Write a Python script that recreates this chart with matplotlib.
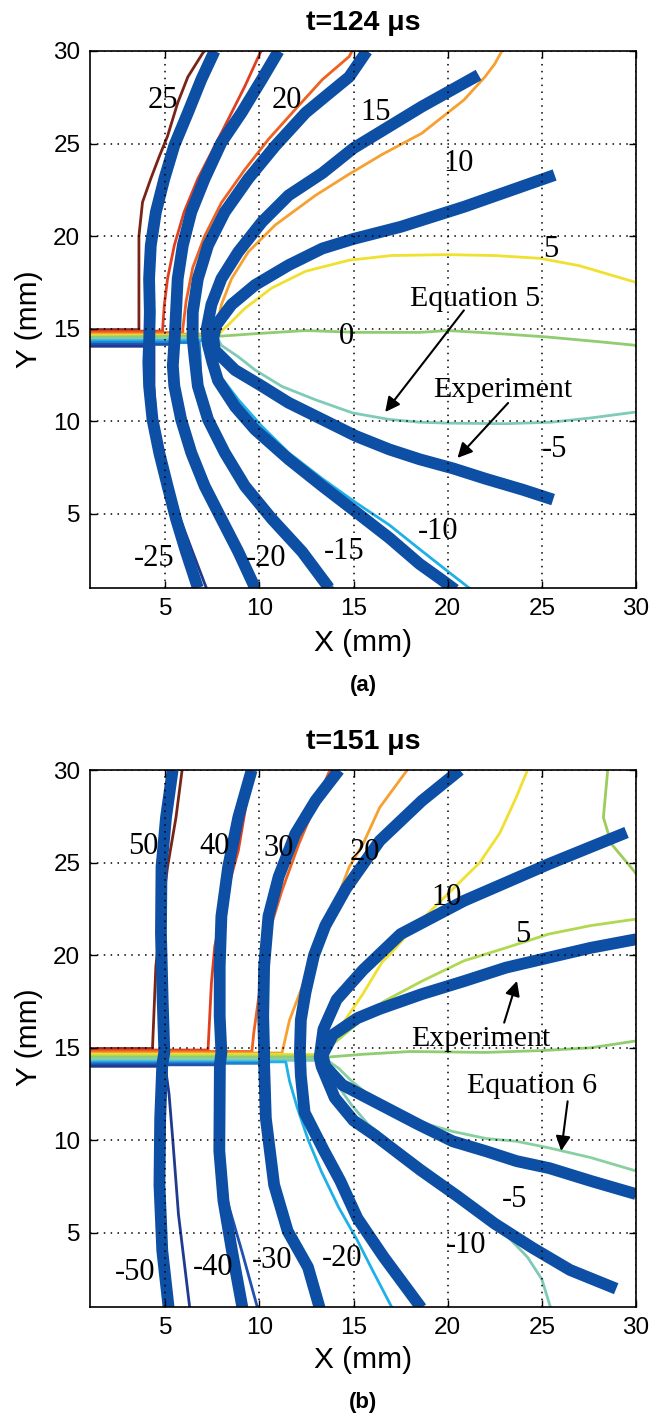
import matplotlib
matplotlib.use("Agg")
import matplotlib.pyplot as plt

# ---------------- panel (a): t = 124 us ----------------
# thin coloured contours (one list of (x, y) per level)
a_lvl_25 = [(1, 14.95), (3.6, 14.95), (3.6, 20.0), (3.79, 21.83), (4.23, 23.1), (4.68, 24.3),
            (5.12, 25.4), (5.66, 27.2), (6.2, 28.6), (7.0, 29.9), (7.1, 30)]
a_lvl_20 = [(1, 14.87), (4.86, 14.87), (4.86, 15.0), (4.95, 16.3), (5.12, 17.7), (5.48, 19.5),
            (6.0, 21.3), (6.73, 23.1), (7.63, 24.87), (8.34, 26.3), (9.23, 28.1), (10.04, 29.9), (10.1, 30)]
a_lvl_15 = [(1, 14.79), (5.93, 14.79), (5.93, 15.0), (6.11, 16.5), (6.46, 18.3), (7.09, 20.0),
            (7.98, 21.8), (9.23, 23.6), (10.48, 25.23), (11.9, 26.84), (13.34, 28.45), (14.77, 29.7), (14.92, 30)]
a_lvl_10 = [(1, 14.71), (7.6, 14.71), (7.71, 15.0), (7.98, 16.3), (8.52, 17.7), (9.41, 19.15),
            (10.84, 20.6), (12.98, 22.2), (14.77, 23.35), (16.5, 24.4), (18.62, 25.55), (20.86, 27.35),
            (21.98, 28.6), (22.5, 29.3), (22.88, 30)]
a_lvl_5 = [(1, 14.63), (7.8, 14.63), (7.98, 14.86), (8.34, 15.2), (9.23, 16.1), (10.66, 17.2),
           (12.45, 18.1), (14.77, 18.7), (17.0, 18.95), (19.96, 19.0), (22.5, 18.95), (24.9, 18.8),
           (27.0, 18.4), (30, 17.5)]
a_lvl_0 = [(1, 14.55), (7.98, 14.6), (9.77, 14.73), (12.45, 14.9), (15.26, 14.8), (18.5, 14.8),
           (20.0, 14.9), (22.5, 14.75), (25.3, 14.55), (28.0, 14.3), (30, 14.1)]
a_lvl_m5 = [(1, 14.45), (7.8, 14.45), (7.98, 14.1), (8.88, 13.48), (9.77, 12.77), (11.2, 11.88),
            (12.98, 11.16), (14.95, 10.45), (16.9, 10.1), (18.5, 9.95), (20.0, 9.9), (23.1, 9.87),
            (25.5, 9.95), (27.6, 10.18), (30, 10.5)]
a_lvl_m10 = [(1, 14.35), (7.7, 14.35), (7.75, 13.3), (7.8, 12.6), (8.88, 11.16), (10.13, 9.73),
             (11.55, 8.3), (13.34, 6.9), (15.13, 5.6), (16.9, 4.4), (18.5, 3.1), (20.0, 1.9), (21.2, 0.95)]
a_lvl_m15 = [(1, 14.25), (6.8, 14.25), (6.85, 13.5), (6.9, 11.9), (7.35, 10.1), (8.3, 8.3),
             (9.4, 6.5), (10.85, 4.73), (12.45, 2.95), (13.9, 1.0)]
a_lvl_m20 = [(1, 14.15), (5.6, 14.15), (5.55, 13.0), (5.6, 11.9), (5.95, 10.1), (6.5, 8.3),
             (7.2, 6.5), (8.1, 4.73), (9.0, 2.95), (9.9, 1.0)]
a_lvl_m25 = [(1, 14.05), (4.4, 14.05), (4.4, 11.9), (4.5, 10.1), (4.85, 8.3), (5.3, 6.5),
             (5.8, 4.7), (6.45, 2.95), (7.18, 1.0)]

# thick blue experimental curves
a_exp_1 = [(7.62, 30), (6.91, 28.45), (6.2, 26.66), (5.48, 24.9), (4.95, 23.1), (4.5, 21.3),
           (4.23, 19.5), (4.14, 17.7), (4.18, 15.9), (4.15, 14.5), (4.1, 13.2), (4.14, 11.9),
           (4.32, 10.1), (4.68, 8.3), (5.12, 6.5), (5.57, 4.73), (6.1, 2.95), (6.73, 1.0)]
a_exp_2 = [(11.02, 30), (10.12, 28.45), (9.05, 26.66), (7.98, 25.05), (7.09, 23.1), (6.38, 21.3),
           (5.93, 19.5), (5.66, 17.7), (5.57, 15.9), (5.5, 14.5), (5.4, 13.0), (5.48, 11.9),
           (5.84, 10.1), (6.38, 8.3), (7.09, 6.5), (7.98, 4.73), (8.88, 2.95), (9.77, 1.0)]
a_exp_3 = [(15.71, 30), (14.77, 28.6), (13.69, 27.7), (12.45, 26.66), (10.84, 24.87), (9.41, 23.1),
           (8.16, 21.3), (7.27, 19.5), (6.73, 17.7), (6.46, 15.9), (6.45, 14.5), (6.55, 13.5),
           (6.73, 11.9), (7.27, 10.1), (8.16, 8.3), (9.23, 6.5), (10.66, 4.73), (12.27, 2.95), (13.7, 1.0)]
a_exp_4 = [(21.64, 28.7), (18.62, 26.99), (15.0, 24.75), (13.34, 23.4), (11.55, 22.2), (10.13, 20.76),
           (8.88, 19.15), (7.98, 17.7), (7.45, 16.3), (7.2, 15.0), (7.25, 14.2), (7.5, 13.2),
           (7.8, 12.2), (8.7, 10.8), (9.77, 9.55), (11.55, 7.95), (13.34, 6.5), (15.13, 5.1),
           (16.9, 3.7), (18.5, 2.3), (19.6, 1.5), (20.4, 0.9)]
a_exp_5 = [(25.68, 23.3), (20.86, 21.58), (17.5, 20.5), (15.0, 19.85), (13.34, 19.33), (11.55, 18.43),
           (9.77, 17.36), (8.52, 16.3), (7.71, 15.2), (7.55, 14.5), (7.63, 13.84), (8.7, 12.77),
           (10.13, 11.9), (11.55, 11.0), (13.34, 10.1), (15.13, 9.2), (16.9, 8.48), (18.5, 7.95),
           (20.3, 7.45), (22.0, 6.9), (24.0, 6.3), (25.6, 5.77)]

a_labels = ["25", "20", "15", "10", "5", "0", "-5", "-10", "-15", "-20", "-25"]
a_label_xy = [(4.86, 27.3), (11.46, 27.3), (16.15, 26.7), (20.6, 23.9), (25.45, 19.3), (14.6, 14.6),
              (25.67, 8.47), (19.5, 4.06), (14.5, 2.95), (10.35, 2.6), (4.41, 2.59)]
# (text, text position, arrow tail, arrow head)
a_notes = [("Equation 5", (21.47, 16.59), (20.86, 15.99), (16.68, 10.5)),
           ("Experiment", (22.92, 11.67), (23.21, 10.99), (20.52, 8.02))]

# ---------------- panel (b): t = 151 us ----------------
b_lvl_50 = [(1, 14.96), (4.32, 14.96), (4.5, 19.4), (4.68, 21.2), (5.12, 24.77), (5.57, 27.45),
            (5.88, 29.9), (5.9, 30)]
b_lvl_40 = [(1, 14.88), (7.27, 14.88), (7.45, 18.5), (7.63, 20.5), (8.16, 23.0), (8.88, 25.66),
            (9.59, 29.9), (9.62, 30)]
b_lvl_30 = [(1, 14.8), (9.6, 14.8), (9.7, 15.8), (10.0, 18.0), (10.5, 21.2), (11.2, 23.5),
            (12.09, 26.0), (13.7, 29.9), (13.75, 30)]
b_lvl_20 = [(1, 14.72), (11.2, 14.72), (11.6, 16.5), (12.5, 18.9), (13.5, 21.4), (14.77, 24.77),
            (15.5, 26.0), (16.39, 27.98), (17.85, 30)]
b_lvl_10 = [(1, 14.64), (13.2, 14.64), (14.15, 15.9), (15.49, 17.9), (16.5, 19.6), (17.05, 20.18),
            (18.13, 21.43), (19.2, 22.5), (20.27, 23.57), (21.7, 25.0), (22.77, 26.6), (23.66, 28.57),
            (24.24, 30)]
b_lvl_5 = [(1, 14.56), (13.5, 14.56), (13.9, 15.2), (15.2, 16.3), (16.6, 17.5), (18.63, 18.6),
           (20.87, 19.7), (23.1, 20.4), (25.36, 21.14), (27.6, 21.6), (30, 21.95)]
b_lvl_0 = [(1, 14.48), (13.4, 14.48), (15.5, 14.65), (18.0, 14.8), (22.0, 14.75), (25.0, 14.85),
           (27.6, 15.0), (30, 15.37)]
b_lvl_0r = [(28.5, 30), (28.27, 27.44), (28.7, 26.0), (29.96, 24.47), (30, 24.4)]
b_lvl_m5 = [(1, 14.4), (13.5, 14.4), (14.2, 13.9), (14.9, 13.2), (16.7, 11.7), (18.48, 11.0),
            (20.27, 10.48), (22.05, 10.1), (23.66, 9.95), (25.36, 9.6), (27.6, 9.07), (30, 8.35)]
b_lvl_m10 = [(1, 14.32), (13.4, 14.32), (13.66, 13.7), (14.9, 11.9), (15.8, 10.84), (17.5, 9.5),
             (19.5, 8.0), (21.0, 6.8), (22.05, 5.8), (23.0, 5.0), (24.24, 3.69), (25.0, 2.5), (25.47, 0.95)]
b_lvl_m20 = [(1, 14.24), (11.4, 14.24), (11.6, 13.2), (12.0, 11.8), (12.6, 10.0), (13.3, 8.3),
             (14.2, 6.4), (15.2, 4.6), (16.0, 3.0), (17.05, 0.95)]
b_lvl_m30 = [(1, 14.16), (10.3, 14.16), (10.45, 11.2), (10.9, 7.6), (11.6, 5.1), (12.7, 3.15), (13.35, 0.95)]
b_lvl_m40 = [(1, 14.08), (8.0, 14.08), (8.0, 10.0), (8.3, 6.7), (9.1, 3.9), (9.9, 0.95)]
b_lvl_m50 = [(1, 14.0), (5.0, 14.0), (5.2, 12.5), (5.4, 10.0), (5.7, 6.0), (6.3, 0.95)]

b_exp_1 = [(5.39, 30), (5.04, 27.45), (4.8, 24.77), (4.77, 21.2), (4.86, 17.6), (4.95, 14.75),
           (4.84, 14.09), (4.73, 11.2), (4.69, 7.6), (4.84, 4.05), (5.18, 0.95)]
b_exp_2 = [(9.59, 30), (8.88, 27.45), (8.34, 24.77), (7.98, 22.1), (7.89, 19.4), (7.89, 16.7),
           (7.98, 14.75), (7.9, 14.09), (7.87, 9.43), (8.09, 6.74), (8.54, 4.05), (9.1, 0.95)]
b_exp_3 = [(14.23, 30), (12.98, 28.35), (11.91, 26.56), (11.02, 24.23), (10.48, 22.1), (10.25, 19.4),
           (10.2, 16.7), (10.25, 14.75), (10.25, 14.09), (10.34, 11.2), (10.78, 7.6), (11.5, 5.1),
           (12.58, 3.15), (13.2, 0.95)]
b_exp_4 = [(20.65, 30), (18.63, 28.34), (16.39, 26.18), (14.6, 23.6), (13.5, 21.6), (12.9, 20.0),
           (12.45, 18.0), (12.2, 16.5), (12.15, 14.75), (12.2, 13.5), (12.4, 11.5), (13.4, 9.5),
           (14.3, 7.8), (15.2, 5.8), (16.6, 3.7), (18.6, 0.95)]
b_exp_5 = [(29.5, 26.63), (25.36, 24.92), (20.87, 22.94), (17.5, 21.14), (15.5, 19.2), (14.1, 17.6),
           (13.4, 16.0), (13.2, 14.5), (13.3, 14.0), (14.0, 12.3), (15.0, 11.07), (16.1, 10.3),
           (18.55, 8.4), (20.5, 7.0), (22.5, 5.5), (24.5, 4.2), (26.5, 3.0), (28.95, 1.99)]
b_exp_6 = [(30, 20.86), (27.6, 20.4), (25.36, 19.87), (23.1, 19.33), (20.87, 18.6), (18.63, 17.9),
           (16.39, 17.1), (15.2, 16.6), (13.9, 15.7), (13.35, 14.6), (13.5, 14.0), (14.4, 13.0),
           (16.1, 12.1), (18.48, 10.84), (20.27, 9.95), (22.05, 9.41), (23.66, 8.88), (25.4, 8.5),
           (27.6, 7.81), (30, 7.1)]

b_labels = ["50", "40", "30", "20", "10", "5", "-5", "-10", "-20", "-30", "-40", "-50"]
b_label_xy = [(3.85, 25.87), (7.64, 25.87), (11.01, 25.78), (15.6, 25.55), (19.95, 23.1), (24.0, 21.13),
              (23.56, 6.83), (20.99, 4.32), (14.37, 3.6), (10.67, 3.51), (7.53, 3.15), (3.39, 2.89)]
b_notes = [("Experiment", (21.77, 15.46), (23.0, 16.36), (23.68, 18.61)),
           ("Equation 6", (24.46, 12.92), (26.37, 12.11), (26.03, 9.43))]

# ---------------- styles ----------------
BLUE = "#0c4fa4"
a_colors = ["#7a2418", "#e04020", "#f06020", "#f7a030", "#f0e030", "#90cc70",
            "#80cbb8", "#20b0e8", "#2080d0", "#2050b0", "#203a90"]
b_colors = ["#7a2418", "#e04020", "#f06020", "#f7a030", "#f0e030", "#b0d850", "#90cc70",
            "#9ccc5a", "#88d0a0", "#80c8b8", "#20b0e8", "#2080d0", "#2050b0", "#203a90"]

SANS = ["Liberation Sans Narrow", "Liberation Sans", "DejaVu Sans"]
SERIF = ["Liberation Serif", "DejaVu Serif"]


def draw_panel(ax, thin, colors, thick, labels, label_xy, notes):
    for pts, c in zip(thin, colors):
        xs, ys = zip(*pts)
        ax.plot(xs, ys, color=c, lw=2.0, zorder=1.5)
    for pts in thick:
        xs, ys = zip(*pts)
        ax.plot(xs, ys, color=BLUE, lw=8.5, solid_capstyle="butt", zorder=2)
    for s, (x, y) in zip(labels, label_xy):
        ax.text(x, y, s, fontsize=22, family=SERIF, ha="center", va="center", zorder=4)
    for s, txy, tail, head in notes:
        ax.text(txy[0], txy[1], s, fontsize=21.5, family=SERIF, ha="center", va="center", zorder=4)
        ax.annotate("", xy=head, xytext=tail, zorder=4,
                    arrowprops=dict(arrowstyle="-|>", color="k", lw=1.5, mutation_scale=22,
                                    shrinkA=0, shrinkB=0))

    ax.set_xlim(1, 30)
    ax.set_ylim(1, 30)
    ax.set_xticks([5, 10, 15, 20, 25, 30])
    ax.set_yticks([5, 10, 15, 20, 25, 30])
    ax.set_axisbelow(False)
    ax.grid(True, color="k", linestyle=(0, (1, 3.5)), linewidth=1.1)
    ax.tick_params(direction="in", length=5, width=1, top=True, right=True,
                   labelsize=17.5, pad=7)
    for lab in ax.get_xticklabels() + ax.get_yticklabels():
        lab.set_family(SANS)
    for sp in ax.spines.values():
        sp.set_linewidth(1.2)


fig = plt.figure(figsize=(6.52, 14.15), dpi=100)
ax_a = fig.add_axes([0.138, 0.5845, 0.8374, 0.3795])
ax_b = fig.add_axes([0.138, 0.0763, 0.8374, 0.3795])

draw_panel(ax_a,
           [a_lvl_25, a_lvl_20, a_lvl_15, a_lvl_10, a_lvl_5, a_lvl_0,
            a_lvl_m5, a_lvl_m10, a_lvl_m15, a_lvl_m20, a_lvl_m25],
           a_colors,
           [a_exp_1, a_exp_2, a_exp_3, a_exp_4, a_exp_5],
           a_labels, a_label_xy, a_notes)

draw_panel(ax_b,
           [b_lvl_50, b_lvl_40, b_lvl_30, b_lvl_20, b_lvl_10, b_lvl_5, b_lvl_0, b_lvl_0r,
            b_lvl_m5, b_lvl_m10, b_lvl_m20, b_lvl_m30, b_lvl_m40, b_lvl_m50],
           b_colors,
           [b_exp_1, b_exp_2, b_exp_3, b_exp_4, b_exp_5, b_exp_6],
           b_labels, b_label_xy, b_notes)

cx = 0.5567
fig.text(cx, 0.9837, "t=124 \u03bcs", fontsize=20.5, fontweight="bold", family=SANS[1:], ha="center", va="center")
fig.text(cx, 0.5456, "X (mm)", fontsize=21.5, family=SANS[1:], ha="center", va="center")
fig.text(cx, 0.5159, "(a)", fontsize=16, fontweight="bold", family=SANS[1:], ha="center", va="center")
fig.text(0.044, 0.7742, "Y (mm)", fontsize=21.5, family=SANS[1:], rotation=90, ha="center", va="center")

fig.text(cx, 0.4756, "t=151 \u03bcs", fontsize=20.5, fontweight="bold", family=SANS[1:], ha="center", va="center")
fig.text(cx, 0.0389, "X (mm)", fontsize=21.5, family=SANS[1:], ha="center", va="center")
fig.text(cx, 0.0088, "(b)", fontsize=16, fontweight="bold", family=SANS[1:], ha="center", va="center")
fig.text(0.044, 0.2668, "Y (mm)", fontsize=21.5, family=SANS[1:], rotation=90, ha="center", va="center")

fig.savefig("out.png", dpi=100)
